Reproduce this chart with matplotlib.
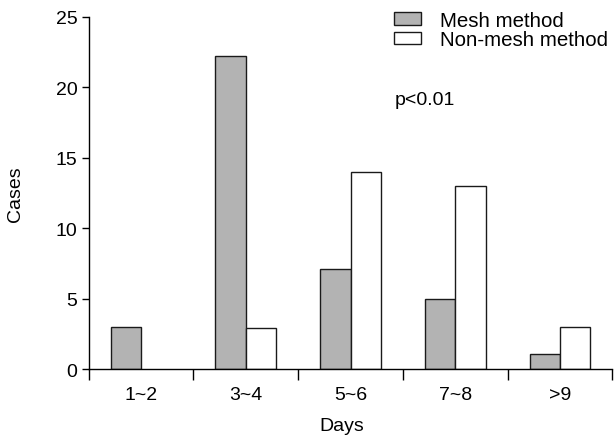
import matplotlib
matplotlib.use("Agg")
import matplotlib.pyplot as plt
import numpy as np

plt.rcParams['font.family'] = ['Liberation Sans', 'DejaVu Sans']

categories = ["1~2", "3~4", "5~6", "7~8", ">9"]
mesh = [3.0, 22.2, 7.1, 5.0, 1.1]
non_mesh = [0.0, 2.9, 14.0, 13.0, 3.0]

FS = 14

fig = plt.figure(figsize=(6.16, 4.39), dpi=100)
ax = fig.add_axes([0.144, 0.157, 0.850, 0.803])

x = np.arange(len(categories))
w = 0.29
ax.bar(x - w / 2, mesh, width=w, color="#b3b3b3", edgecolor="#1a1a1a", linewidth=1.0, label="Mesh method")
nm_vals = [v if v > 0 else np.nan for v in non_mesh]
ax.bar(x + w / 2, nm_vals, width=w, color="white", edgecolor="#1a1a1a", linewidth=1.0, label="Non-mesh method")

ax.set_xlim(-0.5, len(categories) - 0.5)
ax.set_ylim(0, 25)
ax.set_yticks([0, 5, 10, 15, 20, 25])
ax.set_xticks(np.arange(-0.5, len(categories), 1.0))
ax.set_xticklabels([])
ax.set_xticks(x, minor=True)
ax.set_xticklabels(categories, minor=True)
ax.tick_params(axis='x', which='major', length=8, width=1, direction='out')
ax.tick_params(axis='x', which='minor', length=0, pad=12, labelsize=FS)
ax.tick_params(axis='y', length=5, width=1, direction='out', labelsize=FS, pad=3)

for s in ["top", "right"]:
    ax.spines[s].set_visible(False)
for s in ["left", "bottom"]:
    ax.spines[s].set_linewidth(1.0)

ax.set_xlabel("Days", fontsize=FS)
ax.xaxis.set_label_coords(0.483, -0.136)
ax.set_ylabel("Cases", fontsize=FS)
ax.yaxis.set_label_coords(-0.139, 0.5)
ax.yaxis.label.set_va("center")

ax.text(0.585, 0.766, "p<0.01", transform=ax.transAxes, fontsize=FS, ha="left", va="center")

ax.legend(loc="upper left", bbox_to_anchor=(0.6396, 0.973), bbox_transform=fig.transFigure,
          frameon=False, fontsize=14.8, handlelength=1.33, handleheight=0.55,
          handletextpad=0.9, labelspacing=0.02, borderpad=0.0, borderaxespad=0.0)

fig.savefig("out.png", dpi=100)
